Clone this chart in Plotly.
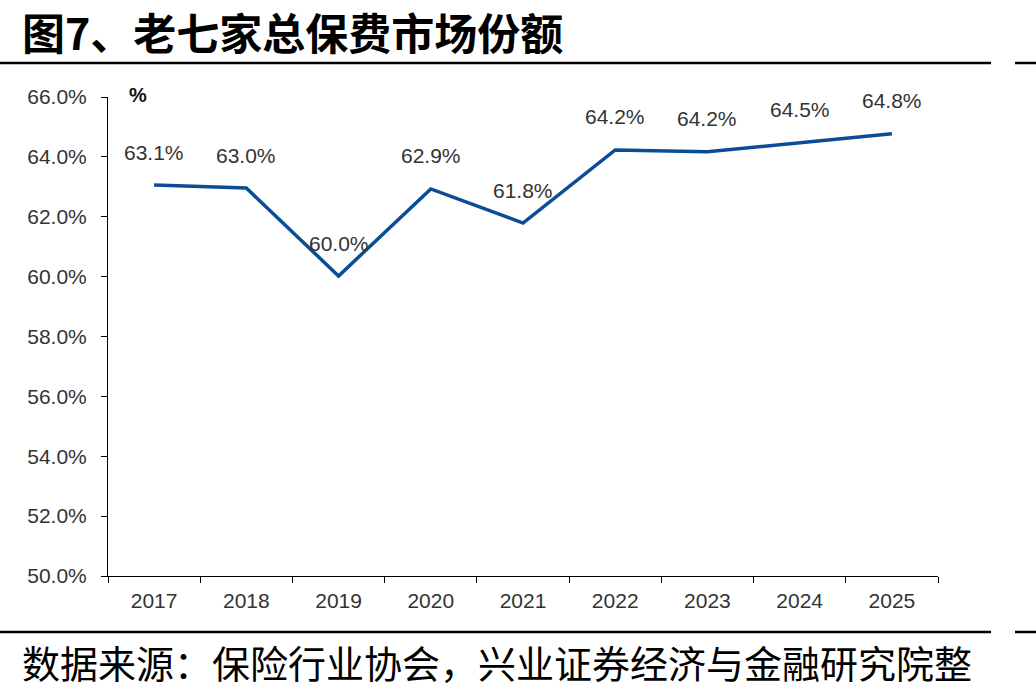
import plotly.graph_objects as go

years = ["2017", "2018", "2019", "2020", "2021", "2022", "2023", "2024", "2025"]
share = [63.06, 62.96, 60.02, 62.93, 61.79, 64.23, 64.17, 64.47, 64.77]
labels = ["63.1%", "63.0%", "60.0%", "62.9%", "61.8%", "64.2%", "64.2%", "64.5%", "64.8%"]
ytick_vals = [50, 52, 54, 56, 58, 60, 62, 64, 66]
ytick_text = ["50.0%", "52.0%", "54.0%", "56.0%", "58.0%", "60.0%", "62.0%", "64.0%", "66.0%"]
title_text = "图7、老七家总保费市场份额"
source_text = "数据来源：保险行业协会，兴业证券经济与金融研究院整"

W, H = 1036, 693
L, R, T, B = 108, 938, 97, 576


def px_x(x):
    return (x - L) / (R - L)


def px_y(y):
    return (B - y) / (B - T)


NUM_FONT = "Liberation Sans, Arial, sans-serif"
CJK_FONT = "Noto Sans CJK SC, sans-serif"
TXT = "#333333"

fig = go.Figure()
fig.add_trace(go.Scatter(
    x=list(range(len(years))), y=share, mode="lines",
    line=dict(color="#0A4D96", width=3.5),
    hoverinfo="skip", showlegend=False,
))

annotations = []
for i, (v, t) in enumerate(zip(share, labels)):
    annotations.append(dict(
        x=i, y=v, xref="x", yref="y", text=t, showarrow=False,
        yshift=33, font=dict(family=NUM_FONT, size=21, color=TXT),
    ))

annotations.append(dict(
    x=px_x(127), y=px_y(95), xref="paper", yref="paper", text="<b>%</b>",
    showarrow=False, xanchor="left", yanchor="middle",
    font=dict(family=NUM_FONT, size=20, color="#111111"),
))
annotations.append(dict(
    x=px_x(20), y=px_y(31), xref="paper", yref="paper", text="<b>" + title_text + "</b>",
    showarrow=False, xanchor="left", yanchor="middle",
    font=dict(family=CJK_FONT, size=43, color="#000000"),
))
annotations.append(dict(
    x=px_x(20), y=px_y(661), xref="paper", yref="paper", text=source_text,
    showarrow=False, xanchor="left", yanchor="middle",
    font=dict(family=CJK_FONT, size=38, color="#000000"),
))

shapes = []
for yy in (63, 632):
    shapes.append(dict(type="line", xref="paper", yref="paper",
                       x0=px_x(0), x1=px_x(991), y0=px_y(yy), y1=px_y(yy),
                       line=dict(color="#000000", width=2.5)))
    shapes.append(dict(type="line", xref="paper", yref="paper",
                       x0=px_x(1015), x1=px_x(1036), y0=px_y(yy), y1=px_y(yy),
                       line=dict(color="#000000", width=2.5)))

fig.update_layout(
    width=W, height=H,
    margin=dict(l=L, r=W - R, t=T, b=H - B, pad=0),
    paper_bgcolor="white", plot_bgcolor="white",
    annotations=annotations, shapes=shapes,
    xaxis=dict(
        tickmode="array", tickvals=list(range(len(years))), ticktext=years,
        range=[-0.5, len(years) - 0.5],
        ticks="", showline=True, linecolor="#000000", linewidth=1,
        showgrid=False, zeroline=False,
        minor=dict(tickmode="array", tickvals=[i - 0.5 for i in range(len(years) + 1)],
                   ticks="outside", ticklen=6, tickcolor="#000000", showgrid=False),
        tickfont=dict(family=NUM_FONT, size=21, color=TXT),
        ticklabelstandoff=6,
    ),
    yaxis=dict(
        range=[50, 66], tickvals=ytick_vals, ticktext=ytick_text,
        ticks="outside", ticklen=6, tickcolor="#000000",
        showline=True, linecolor="#000000", linewidth=1, showgrid=False,
        tickfont=dict(family=NUM_FONT, size=21, color=TXT),
        zeroline=False, ticklabelstandoff=10,
    ),
)

fig.write_html("out.html")
